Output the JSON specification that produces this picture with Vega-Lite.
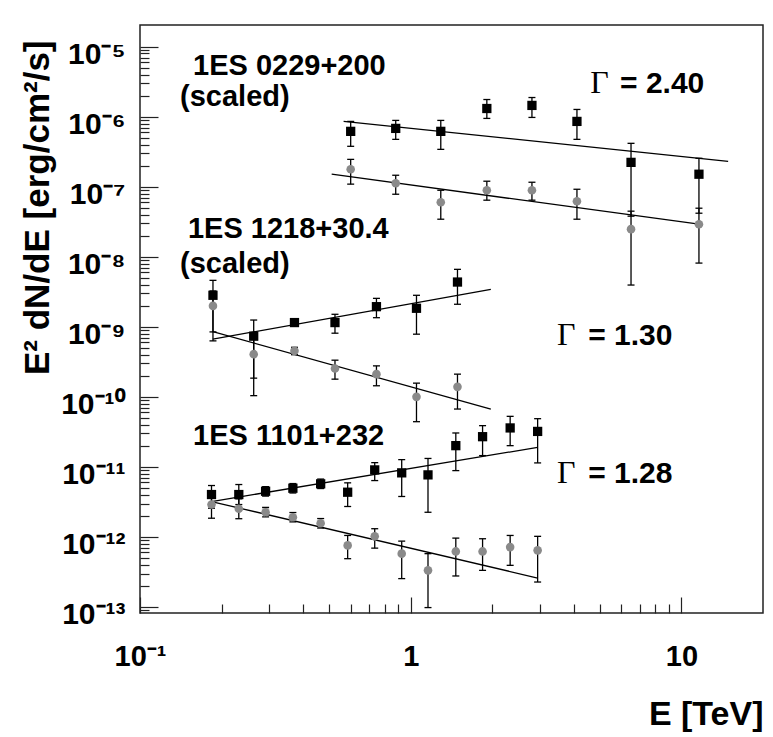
{
  "$schema": "https://vega.github.io/schema/vega-lite/v6.json",
  "autosize": {"type": "none"},
  "padding": {"left": 140, "top": 25, "right": 10, "bottom": 124},
  "width": 623,
  "height": 588,
  "background": "white",
  "config": {
    "view": {"stroke": "#222222", "strokeWidth": 1.5},
    "font": "Liberation Sans"
  },
  "resolve": {"axis": {"x": "independent", "y": "independent"}},
  "datasets": {
    "pts": [
      {"src": "0229", "ser": "sq", "E": 0.600, "F": 6.18e-7, "lo": 3.78e-7, "hi": 8.57e-7},
      {"src": "0229", "ser": "sq", "E": 0.880, "F": 6.81e-7, "lo": 4.75e-7, "hi": 8.86e-7},
      {"src": "0229", "ser": "sq", "E": 1.291, "F": 6.18e-7, "lo": 3.42e-7, "hi": 8.86e-7},
      {"src": "0229", "ser": "sq", "E": 1.910, "F": 1.31e-6, "lo": 9.46e-7, "hi": 1.76e-6},
      {"src": "0229", "ser": "sq", "E": 2.803, "F": 1.45e-6, "lo": 9.77e-7, "hi": 1.88e-6},
      {"src": "0229", "ser": "sq", "E": 4.11, "F": 8.57e-7, "lo": 4.75e-7, "hi": 1.27e-6},
      {"src": "0229", "ser": "sq", "E": 6.51, "F": 2.23e-7, "lo": 3.80e-8, "hi": 4.17e-7},
      {"src": "0229", "ser": "sq", "E": 11.6, "F": 1.51e-7, "lo": 4.19e-8, "hi": 2.55e-7},
      {"src": "0229", "ser": "ci", "E": 0.600, "F": 1.78e-7, "lo": 1.09e-7, "hi": 2.46e-7},
      {"src": "0229", "ser": "ci", "E": 0.880, "F": 1.12e-7, "lo": 7.82e-8, "hi": 1.46e-7},
      {"src": "0229", "ser": "ci", "E": 1.291, "F": 6.02e-8, "lo": 3.44e-8, "hi": 8.91e-8},
      {"src": "0229", "ser": "ci", "E": 1.910, "F": 8.91e-8, "lo": 6.43e-8, "hi": 1.20e-7},
      {"src": "0229", "ser": "ci", "E": 2.803, "F": 8.91e-8, "lo": 6.43e-8, "hi": 1.16e-7},
      {"src": "0229", "ser": "ci", "E": 4.11, "F": 6.21e-8, "lo": 3.44e-8, "hi": 9.21e-8},
      {"src": "0229", "ser": "ci", "E": 6.51, "F": 2.48e-8, "lo": 3.95e-9, "hi": 4.48e-8},
      {"src": "0229", "ser": "ci", "E": 11.6, "F": 2.92e-8, "lo": 8.13e-9, "hi": 4.94e-8},
      {"src": "1218", "ser": "sq", "E": 0.186, "F": 2.82e-9, "lo": 8.46e-10, "hi": 4.61e-9},
      {"src": "1218", "ser": "sq", "E": 0.263, "F": 7.35e-10, "lo": 1.85e-10, "hi": 1.25e-9},
      {"src": "1218", "ser": "sq", "E": 0.372, "F": 1.15e-9, "lo": 1.02e-9, "hi": 1.30e-9},
      {"src": "1218", "ser": "sq", "E": 0.525, "F": 1.15e-9, "lo": 8.11e-10, "hi": 1.51e-9},
      {"src": "1218", "ser": "sq", "E": 0.747, "F": 1.94e-9, "lo": 1.35e-9, "hi": 2.55e-9},
      {"src": "1218", "ser": "sq", "E": 1.05, "F": 1.84e-9, "lo": 7.85e-10, "hi": 2.82e-9},
      {"src": "1218", "ser": "sq", "E": 1.488, "F": 4.36e-9, "lo": 2.10e-9, "hi": 6.62e-9},
      {"src": "1218", "ser": "ci", "E": 0.186, "F": 1.99e-9, "lo": 6.30e-10, "hi": 3.25e-9},
      {"src": "1218", "ser": "ci", "E": 0.263, "F": 4.07e-10, "lo": 1.04e-10, "hi": 6.95e-10},
      {"src": "1218", "ser": "ci", "E": 0.372, "F": 4.54e-10, "lo": 4.0e-10, "hi": 5.1e-10},
      {"src": "1218", "ser": "ci", "E": 0.525, "F": 2.54e-10, "lo": 1.79e-10, "hi": 3.34e-10},
      {"src": "1218", "ser": "ci", "E": 0.747, "F": 2.11e-10, "lo": 1.44e-10, "hi": 2.77e-10},
      {"src": "1218", "ser": "ci", "E": 1.05, "F": 1.00e-10, "lo": 4.42e-11, "hi": 1.57e-10},
      {"src": "1218", "ser": "ci", "E": 1.488, "F": 1.39e-10, "lo": 6.70e-11, "hi": 2.11e-10},
      {"src": "1101", "ser": "sq", "E": 0.1837, "F": 4.03e-12, "lo": 2.57e-12, "hi": 5.42e-12},
      {"src": "1101", "ser": "sq", "E": 0.2317, "F": 4.03e-12, "lo": 2.90e-12, "hi": 5.60e-12},
      {"src": "1101", "ser": "sq", "E": 0.2910, "F": 4.49e-12, "lo": 3.84e-12, "hi": 5.24e-12},
      {"src": "1101", "ser": "sq", "E": 0.367, "F": 4.96e-12, "lo": 4.24e-12, "hi": 5.78e-12},
      {"src": "1101", "ser": "sq", "E": 0.4648, "F": 5.73e-12, "lo": 4.91e-12, "hi": 6.70e-12},
      {"src": "1101", "ser": "sq", "E": 0.5848, "F": 4.35e-12, "lo": 2.72e-12, "hi": 5.92e-12},
      {"src": "1101", "ser": "sq", "E": 0.7361, "F": 9.06e-12, "lo": 6.38e-12, "hi": 1.15e-11},
      {"src": "1101", "ser": "sq", "E": 0.926, "F": 8.22e-12, "lo": 3.78e-12, "hi": 1.27e-11},
      {"src": "1101", "ser": "sq", "E": 1.158, "F": 7.69e-12, "lo": 2.25e-12, "hi": 1.32e-11},
      {"src": "1101", "ser": "sq", "E": 1.467, "F": 2.01e-11, "lo": 8.85e-12, "hi": 3.05e-11},
      {"src": "1101", "ser": "sq", "E": 1.842, "F": 2.70e-11, "lo": 1.45e-11, "hi": 3.88e-11},
      {"src": "1101", "ser": "sq", "E": 2.329, "F": 3.60e-11, "lo": 2.01e-11, "hi": 5.27e-11},
      {"src": "1101", "ser": "sq", "E": 2.942, "F": 3.21e-11, "lo": 1.14e-11, "hi": 4.88e-11},
      {"src": "1101", "ser": "ci", "E": 0.1837, "F": 2.90e-12, "lo": 1.85e-12, "hi": 3.90e-12},
      {"src": "1101", "ser": "ci", "E": 0.2317, "F": 2.52e-12, "lo": 1.82e-12, "hi": 3.50e-12},
      {"src": "1101", "ser": "ci", "E": 0.2910, "F": 2.25e-12, "lo": 1.93e-12, "hi": 2.63e-12},
      {"src": "1101", "ser": "ci", "E": 0.367, "F": 1.91e-12, "lo": 1.64e-12, "hi": 2.23e-12},
      {"src": "1101", "ser": "ci", "E": 0.4648, "F": 1.57e-12, "lo": 1.34e-12, "hi": 1.83e-12},
      {"src": "1101", "ser": "ci", "E": 0.5848, "F": 7.57e-13, "lo": 4.89e-13, "hi": 1.05e-12},
      {"src": "1101", "ser": "ci", "E": 0.7361, "F": 1.02e-12, "lo": 6.92e-13, "hi": 1.31e-12},
      {"src": "1101", "ser": "ci", "E": 0.926, "F": 5.77e-13, "lo": 2.54e-13, "hi": 8.71e-13},
      {"src": "1101", "ser": "ci", "E": 1.158, "F": 3.33e-13, "lo": 9.8e-14, "hi": 5.77e-13},
      {"src": "1101", "ser": "ci", "E": 1.467, "F": 6.21e-13, "lo": 2.77e-13, "hi": 9.62e-13},
      {"src": "1101", "ser": "ci", "E": 1.842, "F": 6.21e-13, "lo": 3.33e-13, "hi": 9.42e-13},
      {"src": "1101", "ser": "ci", "E": 2.329, "F": 7.16e-13, "lo": 3.93e-13, "hi": 1.05e-12},
      {"src": "1101", "ser": "ci", "E": 2.942, "F": 6.43e-13, "lo": 2.27e-13, "hi": 1.02e-12}
    ],
    "fits": [
      {"fit": "0229sq", "E": 0.565, "F": 8.57e-7},
      {"fit": "0229sq", "E": 14.87, "F": 2.31e-7},
      {"fit": "0229ci", "E": 0.5105, "F": 1.51e-7},
      {"fit": "0229ci", "E": 11.6, "F": 2.92e-8},
      {"fit": "1218sq", "E": 0.1858, "F": 6.66e-10},
      {"fit": "1218sq", "E": 1.976, "F": 3.43e-9},
      {"fit": "1218ci", "E": 0.1858, "F": 8.55e-10},
      {"fit": "1218ci", "E": 1.976, "F": 6.70e-11},
      {"fit": "1101sq", "E": 0.1837, "F": 3.20e-12},
      {"fit": "1101sq", "E": 2.942, "F": 1.90e-11},
      {"fit": "1101ci", "E": 0.1837, "F": 3.20e-12},
      {"fit": "1101ci", "E": 2.942, "F": 2.59e-13}
    ],
    "names": [
      {"E": 0.157, "F": 3.94e-6, "label": "1ES 0229+200"},
      {"E": 0.1406, "F": 1.42e-6, "label": "(scaled)"},
      {"E": 0.1504, "F": 1.85e-8, "label": "1ES 1218+30.4"},
      {"E": 0.1406, "F": 5.87e-9, "label": "(scaled)"},
      {"E": 0.157, "F": 2.06e-11, "label": "1ES 1101+232"}
    ],
    "gammas": [
      {"E": 4.60, "F": 2.18e-6, "label": "Γ"},
      {"E": 3.47, "F": 5.51e-10, "label": "Γ"},
      {"E": 3.47, "F": 5.89e-12, "label": "Γ"}
    ],
    "gvals": [
      {"E": 5.93, "F": 2.18e-6, "label": "= 2.40"},
      {"E": 4.52, "F": 5.51e-10, "label": "= 1.30"},
      {"E": 4.52, "F": 5.89e-12, "label": "= 1.28"}
    ]
  },
  "layer": [
    {
      "data": {"name": "fits"},
      "mark": {"type": "line", "color": "black", "strokeWidth": 1.3},
      "encoding": {
        "x": {
          "field": "E", "type": "quantitative",
          "scale": {"type": "log", "domain": [0.1, 20], "nice": false},
          "axis": {
            "orient": "bottom",
            "values": [0.1, 1, 10],
            "labelExpr": "datum.value == 0.1 ? '10⁻¹' : datum.value == 1 ? '1' : '10'",
            "labelOverlap": false,
            "labelFont": "Liberation Sans",
            "labelFontWeight": "bold",
            "labelFontSize": 29,
            "labelColor": "black",
            "labelBaseline": "alphabetic",
            "labelPadding": 68,
            "labelFlush": false,
            "domain": false,
            "grid": false,
            "tickColor": "#222222",
            "tickWidth": 1.2,
            "tickSize": -16,
            "title": "E [TeV]",
            "titleFont": "Liberation Sans",
            "titleFontWeight": "bold",
            "titleFontSize": 34,
            "titleColor": "black",
            "titleAnchor": "end",
            "titleAlign": "right",
            "titleBaseline": "alphabetic",
            "titleX": 623,
            "titleY": 111
          }
        },
        "y": {
          "field": "F", "type": "quantitative",
          "scale": {"type": "log", "domain": [8.2e-14, 2.04e-5], "nice": false},
          "axis": {
            "orient": "left",
            "values": [1e-13, 1e-12, 1e-11, 1e-10, 1e-9, 1e-8, 1e-7, 1e-6, 1e-5],
            "labelExpr": "['10⁻¹³','10⁻¹²','10⁻¹¹','10⁻¹⁰','10⁻⁹','10⁻⁸','10⁻⁷','10⁻⁶','10⁻⁵'][round(log(datum.value)/LN10) + 13]",
            "labelOverlap": false,
            "labelFont": "Liberation Sans",
            "labelFontWeight": "bold",
            "labelFontSize": 30,
            "labelColor": "black",
            "labelBaseline": "alphabetic",
            "labelOffset": 17,
            "labelPadding": 33,
            "labelFlush": false,
            "domain": false,
            "grid": false,
            "tickColor": "#222222",
            "tickWidth": 1.2,
            "tickSize": -18,
            "title": "E² dN/dE [erg/cm²/s]",
            "titleFont": "Liberation Sans",
            "titleFontWeight": "bold",
            "titleFontSize": 35,
            "titleColor": "black",
            "titleAngle": -90,
            "titleAnchor": "end",
            "titleAlign": "right",
            "titleBaseline": "alphabetic",
            "titleX": -92,
            "titleY": 15
          }
        },
        "detail": {"field": "fit"}
      }
    },
    {
      "data": {"name": "pts"},
      "mark": {"type": "rule", "color": "black", "strokeWidth": 1.3},
      "encoding": {
        "x": {
          "field": "E", "type": "quantitative",
          "scale": {"type": "log", "domain": [0.1, 20], "nice": false},
          "axis": {
            "orient": "bottom",
            "values": [0.2, 0.3, 0.4, 0.5, 0.6, 0.7, 0.8, 0.9, 2, 3, 4, 5, 6, 7, 8, 9],
            "labels": false,
            "domain": false,
            "grid": false,
            "tickColor": "#222222",
            "tickWidth": 1.2,
            "tickSize": -9,
            "title": null
          }
        },
        "y": {
          "field": "lo", "type": "quantitative",
          "scale": {"type": "log", "domain": [8.2e-14, 2.04e-5], "nice": false},
          "axis": {
            "orient": "left",
            "values": [9e-14,
              2e-13, 3e-13, 4e-13, 5e-13, 6e-13, 7e-13, 8e-13, 9e-13,
              2e-12, 3e-12, 4e-12, 5e-12, 6e-12, 7e-12, 8e-12, 9e-12,
              2e-11, 3e-11, 4e-11, 5e-11, 6e-11, 7e-11, 8e-11, 9e-11,
              2e-10, 3e-10, 4e-10, 5e-10, 6e-10, 7e-10, 8e-10, 9e-10,
              2e-9, 3e-9, 4e-9, 5e-9, 6e-9, 7e-9, 8e-9, 9e-9,
              2e-8, 3e-8, 4e-8, 5e-8, 6e-8, 7e-8, 8e-8, 9e-8,
              2e-7, 3e-7, 4e-7, 5e-7, 6e-7, 7e-7, 8e-7, 9e-7,
              2e-6, 3e-6, 4e-6, 5e-6, 6e-6, 7e-6, 8e-6, 9e-6],
            "labels": false,
            "domain": false,
            "grid": false,
            "tickColor": "#222222",
            "tickWidth": 1.2,
            "tickSize": -9,
            "title": null
          }
        },
        "y2": {"field": "hi"}
      }
    },
    {
      "data": {"name": "pts"},
      "mark": {"type": "tick", "orient": "horizontal", "color": "black", "size": 7, "thickness": 1.3, "opacity": 1},
      "encoding": {
        "x": {"field": "E", "type": "quantitative", "scale": {"type": "log", "domain": [0.1, 20], "nice": false}, "axis": null},
        "y": {"field": "lo", "type": "quantitative", "scale": {"type": "log", "domain": [8.2e-14, 2.04e-5], "nice": false}, "axis": null}
      }
    },
    {
      "data": {"name": "pts"},
      "mark": {"type": "tick", "orient": "horizontal", "color": "black", "size": 7, "thickness": 1.3, "opacity": 1},
      "encoding": {
        "x": {"field": "E", "type": "quantitative", "scale": {"type": "log", "domain": [0.1, 20], "nice": false}, "axis": null},
        "y": {"field": "hi", "type": "quantitative", "scale": {"type": "log", "domain": [8.2e-14, 2.04e-5], "nice": false}, "axis": null}
      }
    },
    {
      "data": {"name": "pts"},
      "transform": [{"filter": "datum.ser == 'ci'"}],
      "mark": {"type": "circle", "color": "#8a8a8a", "size": 74, "opacity": 1},
      "encoding": {
        "x": {"field": "E", "type": "quantitative", "scale": {"type": "log", "domain": [0.1, 20], "nice": false}, "axis": null},
        "y": {"field": "F", "type": "quantitative", "scale": {"type": "log", "domain": [8.2e-14, 2.04e-5], "nice": false}, "axis": null}
      }
    },
    {
      "data": {"name": "pts"},
      "transform": [{"filter": "datum.ser == 'sq'"}],
      "mark": {"type": "square", "color": "black", "size": 86, "opacity": 1},
      "encoding": {
        "x": {"field": "E", "type": "quantitative", "scale": {"type": "log", "domain": [0.1, 20], "nice": false}, "axis": null},
        "y": {"field": "F", "type": "quantitative", "scale": {"type": "log", "domain": [8.2e-14, 2.04e-5], "nice": false}, "axis": null}
      }
    },
    {
      "data": {"name": "names"},
      "mark": {"type": "text", "font": "Liberation Sans", "fontWeight": "bold", "fontSize": 29, "align": "left", "baseline": "alphabetic", "color": "black"},
      "encoding": {
        "x": {"field": "E", "type": "quantitative", "scale": {"type": "log", "domain": [0.1, 20], "nice": false}, "axis": null},
        "y": {"field": "F", "type": "quantitative", "scale": {"type": "log", "domain": [8.2e-14, 2.04e-5], "nice": false}, "axis": null},
        "text": {"field": "label"}
      }
    },
    {
      "data": {"name": "gammas"},
      "mark": {"type": "text", "font": "Liberation Serif", "fontSize": 32, "align": "left", "baseline": "alphabetic", "color": "black"},
      "encoding": {
        "x": {"field": "E", "type": "quantitative", "scale": {"type": "log", "domain": [0.1, 20], "nice": false}, "axis": null},
        "y": {"field": "F", "type": "quantitative", "scale": {"type": "log", "domain": [8.2e-14, 2.04e-5], "nice": false}, "axis": null},
        "text": {"field": "label"}
      }
    },
    {
      "data": {"name": "gvals"},
      "mark": {"type": "text", "font": "Liberation Sans", "fontWeight": "bold", "fontSize": 30, "align": "left", "baseline": "alphabetic", "color": "black"},
      "encoding": {
        "x": {"field": "E", "type": "quantitative", "scale": {"type": "log", "domain": [0.1, 20], "nice": false}, "axis": null},
        "y": {"field": "F", "type": "quantitative", "scale": {"type": "log", "domain": [8.2e-14, 2.04e-5], "nice": false}, "axis": null},
        "text": {"field": "label"}
      }
    }
  ]
}
